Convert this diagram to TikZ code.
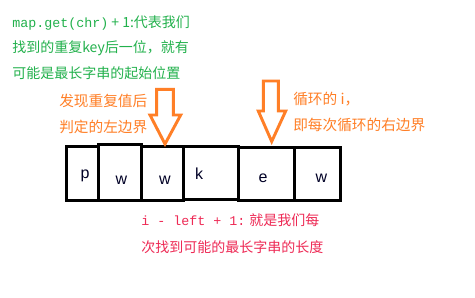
\documentclass[tikz,border=0pt]{standalone}
\usepackage{fontspec}
\setmainfont{Noto Sans CJK SC}
\newfontfamily\codefont{Liberation Mono}
\newfontfamily\letterfont{Liberation Sans}
\definecolor{notegreen}{HTML}{22B14C}
\definecolor{noteorange}{HTML}{FF7F27}
\definecolor{notered}{HTML}{EE2A55}
\begin{document}
\begin{tikzpicture}[x=0.75pt,y=-0.75pt,
  note/.style={anchor=west,inner sep=0pt,font=\fontsize{10.5pt}{12pt}\selectfont},
  cell/.style={draw=black,line width=2.25pt,inner sep=0pt,anchor=north west},
  letter/.style={inner sep=0pt,font=\letterfont\fontsize{12pt}{13pt}\selectfont,text=black!85!blue},
  blockarrow/.style={draw=noteorange,line width=2.2pt,fill=white,line join=miter}]
\useasboundingbox (0,0) rectangle (475,297);
\fill[white] (0,0) rectangle (475,297);

% comments above the array
\node[note,text=notegreen] (g1) at (12,23) {{\codefont\fontsize{10pt}{12pt}\selectfont map.get(chr)} + 1:代表我们};
\node[note,text=notegreen] (g2) at (12,48) {找到的重复key后一位，就有};
\node[note,text=notegreen] (g3) at (12,73) {可能是最长字串的起始位置};

\node[note,text=noteorange,font=\fontsize{11pt}{12pt}\selectfont] (o1) at (59,101) {发现重复值后};
\node[note,text=noteorange,font=\fontsize{11pt}{12pt}\selectfont] (o2) at (59,127) {判定的左边界};
\node[note,text=noteorange,font=\fontsize{11pt}{12pt}\selectfont] (o3) at (293,99) {循环的 i，};
\node[note,text=noteorange,font=\fontsize{11pt}{12pt}\selectfont] (o4) at (293,125) {即每次循环的右边界};

% the character cells
\node[cell,minimum width=32*0.75pt,minimum height=54*0.75pt] (c1) at (65,145) {};
\node[cell,minimum width=43*0.75pt,minimum height=56*0.75pt] (c2) at (97,143) {};
\node[cell,minimum width=42*0.75pt,minimum height=54*0.75pt] (c3) at (140,145) {};
\node[cell,minimum width=55*0.75pt,minimum height=53*0.75pt] (c4) at (182,145) {};
\node[cell,minimum width=56*0.75pt,minimum height=53*0.75pt] (c5) at (237,146) {};
\node[cell,minimum width=46*0.75pt,minimum height=53*0.75pt] (c6) at (293,146) {};

\node[letter] (l1) at (85,176) {p};
\node[letter] (l2) at (121.5,180) {w};
\node[letter] (l3) at (165,180) {w};
\node[letter] (l4) at (199,174) {k};
\node[letter] (l5) at (263,178) {e};
\node[letter] (l6) at (321.5,178) {w};

% block arrows marking the window bounds
\draw[blockarrow] (156.7,89.3) -- (173.3,89.3) -- (173.3,115) -- (180.7,115)
  -- (165,144) -- (150,115) -- (156.7,115) -- cycle;
\draw[blockarrow] (263.3,81) -- (278.3,81) -- (278.3,111) -- (285.7,111)
  -- (271.7,141.5) -- (258.3,111) -- (263.3,111) -- cycle;

% length note below the array
\node[note,text=notered] (r1) at (141,220) {{\codefont\fontsize{10pt}{12pt}\selectfont i - left + 1:} 就是我们每};
\node[note,text=notered] (r2) at (141,247) {次找到可能的最长字串的长度};
\end{tikzpicture}
\end{document}
